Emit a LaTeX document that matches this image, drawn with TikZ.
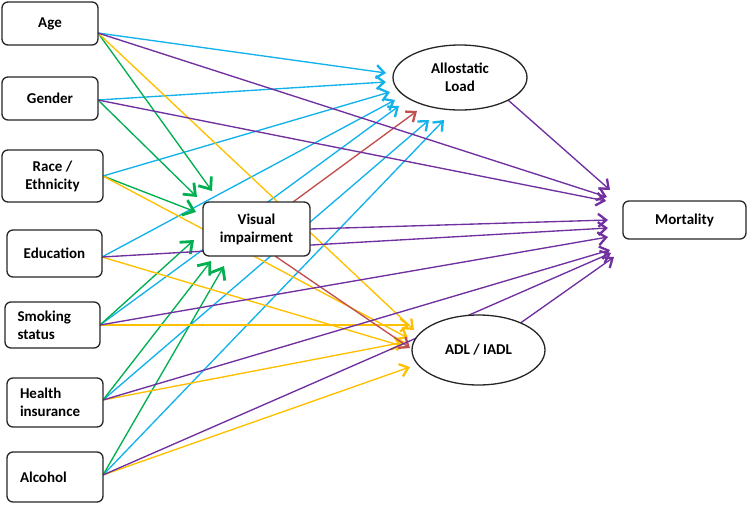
\documentclass[tikz,border=0pt]{standalone}
\usepackage{fontspec}
\setmainfont{Carlito}
\usetikzlibrary{arrows.meta,shapes.geometric,calc}
\pgfdeclarelayer{bg}
\pgfsetlayers{bg,main}
\definecolor{cyn}{RGB}{20,178,235}
\definecolor{prp}{RGB}{112,48,160}
\definecolor{grn}{RGB}{0,176,80}
\definecolor{ylw}{RGB}{255,192,0}
\definecolor{rdd}{RGB}{192,80,77}
\begin{document}
\begin{tikzpicture}[x=1pt,y=-1pt,
  lbl/.style={font=\bfseries\fontsize{15}{18}\selectfont},
  box/.style={lbl, draw=black!85, line width=1.3pt, rounded corners=6pt, fill=white, inner sep=0pt, align=center},
  lbox/.style={box, align=left},
  ell/.style={lbl, ellipse, draw=black!85, line width=1.3pt, fill=white, inner sep=0pt, align=center},
  arr/.style={line width=1.35pt, -{Straight Barb[length=8pt,width=13pt,line width=2.3pt]}},
  garr/.style={line width=1.35pt, draw=grn, -{Straight Barb[length=10pt,width=16pt,line width=2.8pt]}},
  carr/.style={arr, draw=cyn},
  parr/.style={arr, draw=prp},
  yarr/.style={arr, draw=ylw},
  rarr/.style={arr, draw=rdd}]
\useasboundingbox (0,0) rectangle (747,504);

% nodes
\node[box, minimum width=96pt, minimum height=43pt] (age) at (50,23.5) {Age};
\node[box, minimum width=96pt, minimum height=43pt] (gender) at (50,98.5) {Gender};
\node[box, minimum width=101pt, minimum height=52pt] (race) at (52.5,176) {Race /\\Ethnicity};
\node[box, minimum width=95pt, minimum height=47pt] (edu) at (54.5,253.5) {Education};
\node[lbox, minimum width=95pt, minimum height=46pt, text width=70pt] (smoke) at (52.5,325) {Smoking\\status};
\node[lbox, minimum width=96pt, minimum height=49pt, text width=70pt] (health) at (55,402.5) {Health\\insurance};
\node[lbox, minimum width=96pt, minimum height=50pt, text width=70pt] (alc) at (55,477) {Alcohol};
\node[box, minimum width=107pt, minimum height=54pt] (vi) at (256.5,229) {Visual\\impairment};
\node[ell, minimum width=134pt, minimum height=65pt] (al) at (460,77.5) {Allostatic\\Load};
\node[ell, minimum width=133pt, minimum height=70pt] (adl) at (478.5,350) {ADL / IADL};
\node[box, minimum width=123pt, minimum height=38pt] (mort) at (684.5,220) {Mortality};

\begin{pgfonlayer}{bg}
% cyan -> Allostatic Load
\draw[carr] ($(age)+(48,9.5)$) -- ($(al)+(-74,-4.5)$);
\draw[carr] ($(gender)+(48,1.5)$) -- ($(al)+(-74,4.5)$);
\draw[carr] ($(race)+(50.5,0)$) -- ($(al)+(-70,14.5)$);
\draw[carr] ($(edu)+(47.5,3.5)$) -- ($(al)+(-65,22.5)$);
\draw[carr] ($(smoke)+(47.5,0)$) -- ($(al)+(-61,28.5)$);
\draw[carr] ($(health)+(48,-2.5)$) -- ($(al)+(-31,42.5)$);
\draw[carr] ($(alc)+(48,-2)$) -- ($(al)+(-16,42.5)$);
% green -> Visual impairment
\draw[garr] ($(age)+(48,9.5)$) -- ($(vi)+(-44.5,-38)$);
\draw[garr] ($(gender)+(48,1.5)$) -- ($(vi)+(-59.5,-32)$);
\draw[garr] ($(race)+(50.5,0)$) -- ($(vi)+(-60.5,-17)$);
\draw[garr] ($(smoke)+(47.5,0)$) -- ($(vi)+(-62.5,11)$);
\draw[garr] ($(health)+(48,-2.5)$) -- ($(vi)+(-45.5,32)$);
\draw[garr] ($(alc)+(48,-2)$) -- ($(vi)+(-32.5,37)$);
% yellow -> ADL / IADL
\draw[yarr] ($(age)+(48,9.5)$) -- ($(adl)+(-64.5,-20)$);
\draw[yarr] ($(race)+(50.5,0)$) -- ($(adl)+(-70.5,-12)$);
\draw[yarr] ($(edu)+(47.5,3.5)$) -- ($(adl)+(-76.5,-4)$);
\draw[yarr] ($(smoke)+(47.5,0)$) -- ($(adl)+(-68.5,-25)$);
\draw[yarr] ($(health)+(48,-2.5)$) -- ($(adl)+(-73.5,-8)$);
\draw[yarr] ($(alc)+(48,-2)$) -- ($(adl)+(-68.5,17)$);
% red from Visual impairment
\draw[rarr] ($(vi)+(36.5,-27)$) -- ($(al)+(-43,33.5)$);
\draw[rarr] ($(vi)+(18.5,27)$) -- ($(adl)+(-68.5,-2)$);
% purple -> Mortality
\draw[parr] ($(al)+(48,22.5)$) -- ($(mort)+(-74.5,-30)$);
\draw[parr] ($(age)+(48,9.5)$) -- ($(mort)+(-77.5,-23)$);
\draw[parr] ($(gender)+(48,1.5)$) -- ($(mort)+(-78.5,-19)$);
\draw[parr] ($(vi)+(53.5,0)$) -- ($(mort)+(-76.5,0)$);
\draw[parr] ($(edu)+(47.5,3.5)$) -- ($(mort)+(-76.5,8)$);
\draw[parr] ($(smoke)+(47.5,0)$) -- ($(mort)+(-76.5,17)$);
\draw[parr] ($(health)+(48,-2.5)$) -- ($(mort)+(-74.5,30)$);
\draw[parr] ($(alc)+(48,-2)$) -- ($(mort)+(-73.5,33)$);
\draw[parr] ($(adl)+(42,-27)$) -- ($(mort)+(-70.5,37)$);
\end{pgfonlayer}
\end{tikzpicture}
\end{document}
